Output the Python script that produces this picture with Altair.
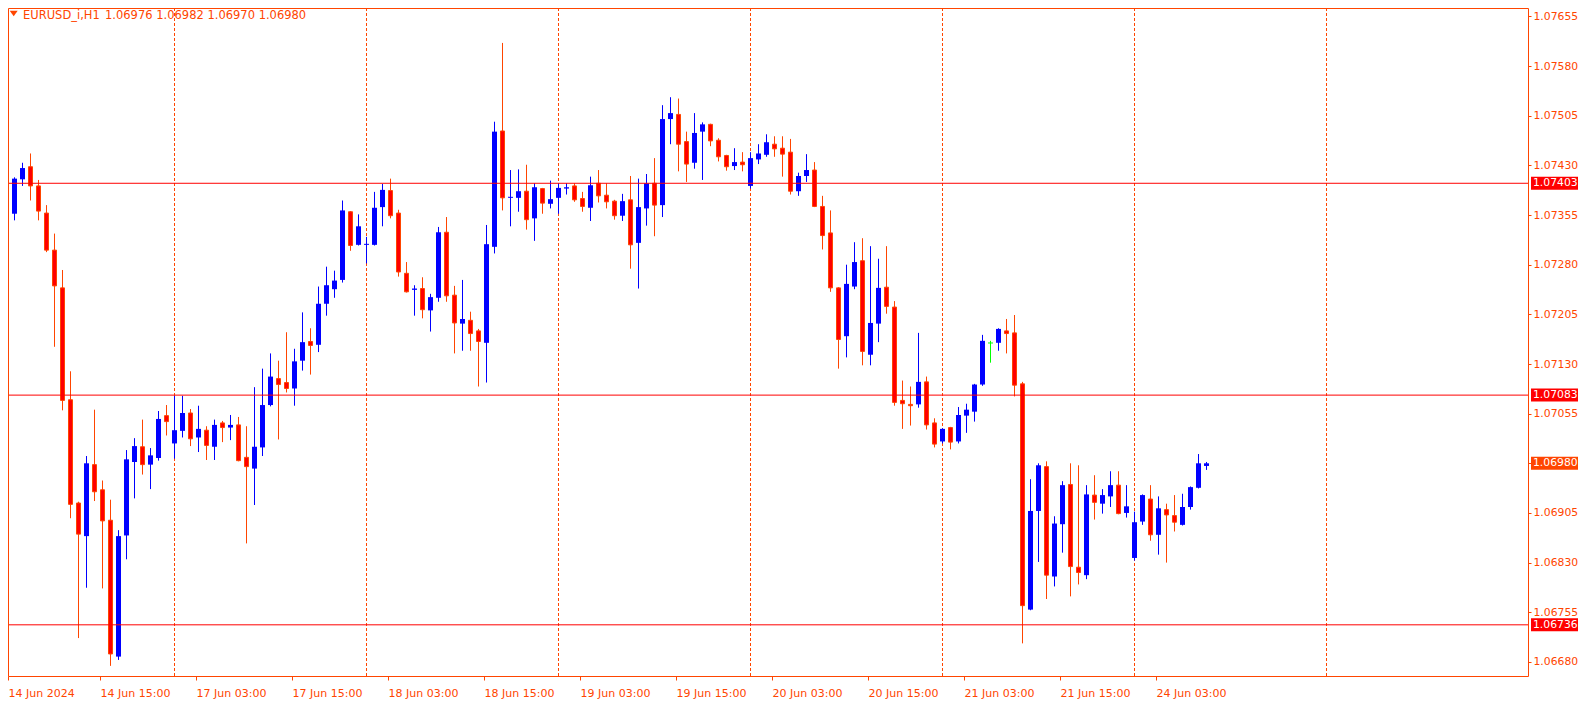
import json
import altair as alt
import pandas as pd

# ---------------- data ----------------
SYMBOL = "EURUSD_i,H1"

OPEN = [
    1.07368, 1.07357, 1.07409, 1.07428, 1.07399, 1.07358, 1.07302, 1.07245, 1.07076, 1.06920,
    1.06870, 1.06978, 1.06940, 1.06894, 1.06688, 1.06871, 1.06982, 1.07005, 1.06978, 1.06988,
    1.07052, 1.07010, 1.07029, 1.07056, 1.07019, 1.07030, 1.07005, 1.07041, 1.07034, 1.07038,
    1.06989, 1.06972, 1.07004, 1.07068, 1.07108, 1.07102, 1.07093, 1.07135, 1.07164, 1.07159,
    1.07221, 1.07243, 1.07257, 1.07360, 1.07310, 1.07310, 1.07310, 1.07367, 1.07392, 1.07358,
    1.07267, 1.07242, 1.07244, 1.07211, 1.07230, 1.07329, 1.07234, 1.07191, 1.07196, 1.07180,
    1.07162, 1.07307, 1.07482, 1.07381, 1.07381, 1.07391, 1.07350, 1.07395, 1.07372, 1.07381,
    1.07395, 1.07399, 1.07380, 1.07366, 1.07403, 1.07385, 1.07376, 1.07354, 1.07378, 1.07313,
    1.07365, 1.07403, 1.07370, 1.07500, 1.07507, 1.07466, 1.07434, 1.07481, 1.07492, 1.07468,
    1.07445, 1.07429, 1.07435, 1.07399, 1.07439, 1.07446, 1.07462, 1.07456, 1.07450, 1.07391,
    1.07414, 1.07423, 1.07368, 1.07328, 1.07245, 1.07172, 1.07247, 1.07286, 1.07144, 1.07191,
    1.07246, 1.07216, 1.07075, 1.07069, 1.07069, 1.07103, 1.07041, 1.07013, 1.07034, 1.07013,
    1.07052, 1.07058, 1.07099, 1.07161, 1.07162, 1.07180, 1.07177, 1.07100, 1.06759, 1.06908,
    1.06975, 1.06809, 1.06888, 1.06948, 1.06823, 1.06811, 1.06932, 1.06919, 1.06930, 1.06947,
    1.06905, 1.06837, 1.06892, 1.06926, 1.06872, 1.06910, 1.06901, 1.06887, 1.06914, 1.06943,
    1.06976,
]
HIGH = [
    1.07400, 1.07412, 1.07434, 1.07448, 1.07408, 1.07370, 1.07327, 1.07272, 1.07119, 1.06922,
    1.06991, 1.07061, 1.06954, 1.06925, 1.06879, 1.07000, 1.07018, 1.07046, 1.07003, 1.07059,
    1.07068, 1.07082, 1.07082, 1.07062, 1.07067, 1.07036, 1.07046, 1.07044, 1.07053, 1.07050,
    1.07036, 1.07095, 1.07123, 1.07146, 1.07135, 1.07178, 1.07153, 1.07208, 1.07184, 1.07247,
    1.07277, 1.07271, 1.07377, 1.07361, 1.07356, 1.07322, 1.07390, 1.07402, 1.07410, 1.07363,
    1.07284, 1.07249, 1.07261, 1.07236, 1.07337, 1.07352, 1.07248, 1.07257, 1.07209, 1.07183,
    1.07340, 1.07496, 1.07615, 1.07423, 1.07424, 1.07431, 1.07403, 1.07396, 1.07407, 1.07403,
    1.07403, 1.07403, 1.07390, 1.07413, 1.07423, 1.07403, 1.07378, 1.07387, 1.07414, 1.07410,
    1.07417, 1.07441, 1.07521, 1.07533, 1.07531, 1.07481, 1.07509, 1.07495, 1.07493, 1.07471,
    1.07446, 1.07456, 1.07450, 1.07450, 1.07462, 1.07477, 1.07474, 1.07474, 1.07470, 1.07419,
    1.07447, 1.07435, 1.07384, 1.07362, 1.07246, 1.07280, 1.07314, 1.07320, 1.07308, 1.07289,
    1.07308, 1.07225, 1.07105, 1.07096, 1.07177, 1.07111, 1.07048, 1.07033, 1.07035, 1.07065,
    1.07070, 1.07100, 1.07174, 1.07165, 1.07184, 1.07198, 1.07204, 1.07103, 1.06956, 1.06980,
    1.06983, 1.06900, 1.06953, 1.06980, 1.06977, 1.06947, 1.06962, 1.06941, 1.06968, 1.06968,
    1.06947, 1.06907, 1.06933, 1.06947, 1.06930, 1.06919, 1.06932, 1.06934, 1.06945, 1.06994,
    1.06982,
]
LOW = [
    1.07355, 1.07347, 1.07399, 1.07377, 1.07347, 1.07299, 1.07156, 1.07060, 1.06897, 1.06716,
    1.06792, 1.06923, 1.06791, 1.06674, 1.06683, 1.06835, 1.06927, 1.06963, 1.06941, 1.06984,
    1.07022, 1.06987, 1.07019, 1.07006, 1.06997, 1.06985, 1.06985, 1.07012, 1.07015, 1.06983,
    1.06859, 1.06917, 1.06991, 1.07066, 1.07016, 1.07087, 1.07067, 1.07120, 1.07114, 1.07148,
    1.07203, 1.07230, 1.07253, 1.07301, 1.07309, 1.07282, 1.07309, 1.07338, 1.07350, 1.07262,
    1.07238, 1.07203, 1.07199, 1.07179, 1.07224, 1.07224, 1.07146, 1.07150, 1.07150, 1.07096,
    1.07102, 1.07297, 1.07362, 1.07338, 1.07360, 1.07333, 1.07316, 1.07357, 1.07365, 1.07357,
    1.07386, 1.07375, 1.07360, 1.07346, 1.07374, 1.07365, 1.07348, 1.07346, 1.07274, 1.07244,
    1.07339, 1.07323, 1.07352, 1.07462, 1.07421, 1.07405, 1.07425, 1.07408, 1.07459, 1.07436,
    1.07422, 1.07423, 1.07421, 1.07395, 1.07432, 1.07443, 1.07443, 1.07413, 1.07386, 1.07384,
    1.07405, 1.07367, 1.07303, 1.07239, 1.07123, 1.07140, 1.07243, 1.07128, 1.07128, 1.07163,
    1.07206, 1.07067, 1.07032, 1.07037, 1.07064, 1.07031, 1.07004, 1.07010, 1.07001, 1.07010,
    1.07026, 1.07043, 1.07097, 1.07132, 1.07150, 1.07146, 1.07081, 1.06708, 1.06758, 1.06831,
    1.06775, 1.06794, 1.06845, 1.06779, 1.06797, 1.06805, 1.06895, 1.06904, 1.06914, 1.06903,
    1.06898, 1.06833, 1.06887, 1.06863, 1.06842, 1.06830, 1.06877, 1.06886, 1.06910, 1.06942,
    1.06970,
]
CLOSE = [
    1.07358, 1.07410, 1.07426, 1.07399, 1.07361, 1.07302, 1.07248, 1.07075, 1.06918, 1.06873,
    1.06980, 1.06937, 1.06893, 1.06692, 1.06870, 1.06986, 1.07006, 1.06978, 1.06992, 1.07047,
    1.07043, 1.07030, 1.07056, 1.07017, 1.07032, 1.07007, 1.07038, 1.07034, 1.07038, 1.06984,
    1.06975, 1.07005, 1.07068, 1.07111, 1.07099, 1.07093, 1.07134, 1.07163, 1.07158, 1.07221,
    1.07249, 1.07256, 1.07362, 1.07309, 1.07338, 1.07311, 1.07366, 1.07393, 1.07354, 1.07269,
    1.07239, 1.07244, 1.07212, 1.07231, 1.07329, 1.07233, 1.07192, 1.07198, 1.07176, 1.07164,
    1.07311, 1.07481, 1.07381, 1.07382, 1.07391, 1.07348, 1.07397, 1.07373, 1.07379, 1.07396,
    1.07397, 1.07378, 1.07368, 1.07400, 1.07384, 1.07375, 1.07354, 1.07376, 1.07310, 1.07367,
    1.07403, 1.07370, 1.07500, 1.07509, 1.07462, 1.07432, 1.07479, 1.07492, 1.07467, 1.07443,
    1.07428, 1.07435, 1.07431, 1.07441, 1.07448, 1.07465, 1.07455, 1.07447, 1.07391, 1.07414,
    1.07423, 1.07368, 1.07324, 1.07245, 1.07167, 1.07251, 1.07284, 1.07149, 1.07192, 1.07245,
    1.07217, 1.07072, 1.07070, 1.07067, 1.07103, 1.07038, 1.07009, 1.07032, 1.07012, 1.07053,
    1.07061, 1.07099, 1.07165, 1.07161, 1.07183, 1.07176, 1.07098, 1.06765, 1.06908, 1.06977,
    1.06811, 1.06889, 1.06947, 1.06824, 1.06815, 1.06933, 1.06921, 1.06932, 1.06947, 1.06904,
    1.06915, 1.06891, 1.06932, 1.06872, 1.06912, 1.06902, 1.06891, 1.06914, 1.06944, 1.06980,
    1.06980,
]

LEVELS = [1.07403, 1.07083, 1.06736]
AXIS_PRICES = [1.07655, 1.07580, 1.07505, 1.07430, 1.07355, 1.07280, 1.07205,
               1.07130, 1.07055, 1.06980, 1.06905, 1.06830, 1.06755, 1.06680]
DATE_LABELS = ["14 Jun 2024", "14 Jun 15:00", "17 Jun 03:00", "17 Jun 15:00",
               "18 Jun 03:00", "18 Jun 15:00", "19 Jun 03:00", "19 Jun 15:00",
               "20 Jun 03:00", "20 Jun 15:00", "21 Jun 03:00", "21 Jun 15:00",
               "24 Jun 03:00"]
BARS_PER_LABEL = 12
GRID_BARS = [21, 45, 69, 93, 117, 141, 165]   # midnight separators

# ---------------- styling ----------------
FONT = "DejaVu Sans"
FG = "#FF4500"
BULL = "#0000FF"
BEAR_FILL = "#FF0000"
BEAR_LINE = "#FF4500"
DOJI = "#00FF00"
LEVEL_COLOR = "#FF0000"

W, H = 1520, 668
PAD_RIGHT, PAD_BOTTOM = 50, 24
PX_PER_PRICE = 66200.0          # pixels per 1.0 of price
X_DOMAIN = [0.1875, 0.1875 + W / 8.0]
Y_TOP = 1.06980 + 455.3 / PX_PER_PRICE
Y_DOMAIN = [Y_TOP - H / PX_PER_PRICE, Y_TOP]
MIN_BODY = 1.0 / PX_PER_PRICE
TAG_W = PAD_RIGHT - 3

n = len(OPEN)
rows = []
for i in range(n):
    o, h, l, c = OPEN[i], HIGH[i], LOW[i], CLOSE[i]
    d = "up" if c > o else ("down" if c < o else "doji")
    lo = min(o, c)
    hi = max(o, c, lo + MIN_BODY)
    rows.append({"i": i, "o": o, "h": h, "l": l, "c": c, "dir": d,
                 "body_lo": lo, "body_hi": hi})
df = pd.DataFrame(rows)

xs = alt.Scale(domain=X_DOMAIN, nice=False, zero=False)
ys = alt.Scale(domain=Y_DOMAIN, nice=False, zero=False)
cscale = alt.Scale(domain=["up", "down", "doji"], range=[BULL, BEAR_LINE, DOJI])

tick_vals = [max(k * BARS_PER_LABEL - 0.3125, X_DOMAIN[0]) for k in range(len(DATE_LABELS))]
label_expr = f"{json.dumps(DATE_LABELS)}[round((datum.value + 0.3125) / {BARS_PER_LABEL})]"

xaxis = alt.Axis(orient="bottom", values=tick_vals, labelExpr=label_expr, title=None,
                 domain=False, grid=False, tickSize=4, tickColor=FG, tickWidth=1,
                 labelFont=FONT, labelFontSize=11, labelColor=FG, labelAlign="left",
                 labelBaseline="top", labelPadding=7, labelOverlap=False, labelFlush=False)
yaxis = alt.Axis(orient="right", values=AXIS_PRICES, format=".5f", title=None,
                 domain=False, grid=False, tickSize=3, tickColor=FG, tickWidth=1,
                 labelFont=FONT, labelFontSize=10.8, labelColor=FG, labelPadding=2,
                 labelOverlap=False, labelFlush=False, labelBaseline="middle",
                 labelAlign="left")

base = alt.Chart(df)

grid = alt.Chart(pd.DataFrame({"bar": GRID_BARS})).mark_rule(
    color=FG, strokeDash=[3, 2], strokeWidth=1
).encode(x=alt.X("bar:Q", scale=xs, axis=xaxis))

wicks = base.mark_rule(strokeWidth=1, clip=True).encode(
    x=alt.X("i:Q", scale=xs, axis=xaxis),
    y=alt.Y("l:Q", scale=ys, axis=yaxis),
    y2="h:Q",
    color=alt.Color("dir:N", scale=cscale, legend=None),
)

bodies_up = base.transform_filter("datum.dir != 'down'").transform_calculate(
    xa="datum.i - 0.3125", xb="datum.i + 0.3125"
).mark_rect(clip=True).encode(
    x=alt.X("xa:Q", scale=xs, axis=xaxis),
    x2="xb:Q",
    y=alt.Y("body_lo:Q", scale=ys, axis=yaxis),
    y2="body_hi:Q",
    color=alt.Color("dir:N", scale=cscale, legend=None),
)

bodies_down = base.transform_filter("datum.dir == 'down'").transform_calculate(
    xa="datum.i - 0.25", xb="datum.i + 0.25"
).mark_rect(clip=True, fill=BEAR_FILL, stroke=BEAR_LINE, strokeWidth=1).encode(
    x=alt.X("xa:Q", scale=xs, axis=xaxis),
    x2="xb:Q",
    y=alt.Y("body_lo:Q", scale=ys, axis=yaxis),
    y2="body_hi:Q",
)

levels_df = pd.DataFrame({"price": LEVELS})
hlines = alt.Chart(levels_df).mark_rule(color=LEVEL_COLOR, strokeWidth=1).encode(
    y=alt.Y("price:Q", scale=ys, axis=yaxis)
)

frame = alt.Chart(pd.DataFrame({"k": [0]})).mark_rect(
    fillOpacity=0, stroke=FG, strokeWidth=1
).encode(x=alt.value(0.5), x2=alt.value(W + 0.5), y=alt.value(0.5), y2=alt.value(H + 0.5))

BOX_PATH = "M-1,-0.2766L1,-0.2766L1,0.2766L-1,0.2766Z"   # 47 x 13 px at size 47^2
level_boxes = alt.Chart(levels_df).mark_point(
    shape=BOX_PATH, size=TAG_W * TAG_W, filled=True, opacity=1, strokeWidth=0, color=LEVEL_COLOR
).encode(x=alt.value(W + 3 + TAG_W / 2), y=alt.Y("price:Q", scale=ys, axis=yaxis))

bid_df = pd.DataFrame({"price": [CLOSE[-1]]})
bid_box = alt.Chart(bid_df).mark_point(
    shape=BOX_PATH, size=TAG_W * TAG_W, filled=True, opacity=1, strokeWidth=0, color=FG
).encode(x=alt.value(W + 3 + TAG_W / 2), y=alt.Y("price:Q", scale=ys, axis=yaxis))

tags_df = pd.DataFrame({"price": LEVELS + [CLOSE[-1]]})
tag_text = alt.Chart(tags_df).mark_text(
    align="left", baseline="middle", font=FONT, fontSize=10.8, color="white"
).encode(x=alt.value(W + 5), y=alt.Y("price:Q", scale=ys, axis=yaxis),
         text=alt.Text("price:Q", format=".5f"))

head_df = pd.DataFrame({
    "sym": [SYMBOL],
    "ohlc": [f"{OPEN[-1]:.5f} {HIGH[-1]:.5f} {LOW[-1]:.5f} {CLOSE[-1]:.5f}"],
})
tri = alt.Chart(head_df).mark_point(
    shape="M-1,-0.7L1,-0.7L0,0.7Z", size=64, filled=True, opacity=1, strokeWidth=0, color=FG
).encode(x=alt.value(5.7), y=alt.value(5.5))
sym_text = alt.Chart(head_df).mark_text(
    align="left", baseline="alphabetic", font=FONT, fontSize=11.5, color=FG
).encode(x=alt.value(15), y=alt.value(10.8), text="sym:N")
ohlc_text = alt.Chart(head_df).mark_text(
    align="left", baseline="alphabetic", font=FONT, fontSize=11.5, color=FG
).encode(x=alt.value(97), y=alt.value(10.8), text="ohlc:N")

chart = alt.layer(
    grid, wicks, bodies_up, bodies_down, hlines, frame,
    level_boxes, bid_box, tag_text, tri, sym_text, ohlc_text
).properties(
    width=W, height=H,
    padding={"left": 0, "top": 0, "right": PAD_RIGHT, "bottom": PAD_BOTTOM},
    autosize=alt.AutoSizeParams(type="none"),
    background="white",
).configure_view(strokeWidth=0)

chart.save("out.html", embed_options={"renderer": "svg", "actions": False})
